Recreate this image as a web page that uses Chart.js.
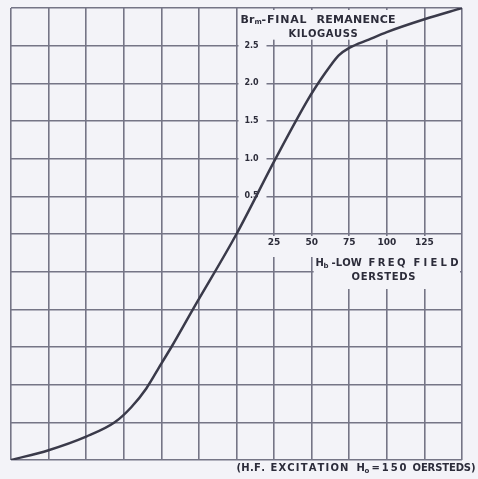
<!DOCTYPE html>
<html>
<head>
<meta charset="utf-8">
<script src="https://cdn.jsdelivr.net/npm/chart.js@4/dist/chart.umd.min.js"></script>
<style>
  html, body { margin: 0; padding: 0; background: #f3f3f8; }
  #wrap { width: 478px; height: 479px; }
</style>
</head>
<body>
<div id="wrap"><canvas id="chart-remanence" width="478" height="479"></canvas></div>
<script>
// Scanned-chart colors
const PAPER = '#f3f3f8'
const GRID = '#757586'
const INK = '#3a3a4a'
const TEXT = '#2c2c3a'

// Low freq field H (oersteds) vs final remanence Brm (kilogauss)
const fieldOe = [-150, -125, -100, -81, -70, -60, -50, -43, -29, 0, 26, 48, 56, 62, 68, 75, 88, 100, 125, 150]
const remanenceKG = [-3.0, -2.87, -2.69, -2.5, -2.3, -2.05, -1.72, -1.49, -1.0, 0, 1.0, 1.8, 2.05, 2.22, 2.37, 2.47, 2.58, 2.68, 2.85, 3.0]

// Tick labels written on the sheet
const xTickLabels = [25, 50, 75, 100, 125]
const yTickLabels = ['0.5', '1.0', '1.5', '2.0', '2.5']
const yTickValues = [0.5, 1.0, 1.5, 2.0, 2.5]

const points = fieldOe.map((x, i) => ({ x, y: remanenceKG[i] }))

// draw text spread evenly between x0 and x1
function spaced(ctx, s, x0, x1, y) {
  const chars = Array.from(s)
  const tw = ctx.measureText(s).width
  const gap = chars.length > 1 ? (x1 - x0 - tw) / (chars.length - 1) : 0
  let x = x0
  chars.forEach((ch) => {
    ctx.fillText(ch, x, y)
    x += ctx.measureText(ch).width + gap
  })
}

const paperPlugin = {
  id: 'paper',
  beforeDraw(chart) {
    const ctx = chart.ctx
    ctx.save()
    ctx.fillStyle = PAPER
    ctx.fillRect(0, 0, chart.width, chart.height)
    ctx.restore()
  },
}

const sheetLabels = {
  id: 'sheetLabels',
  beforeDatasetsDraw(chart) {
    const { ctx, chartArea: a, scales } = chart
    const cx = scales.x.getPixelForValue(0)
    const cy = scales.y.getPixelForValue(0)
    const x25 = scales.x.getPixelForValue(25)
    const x50 = scales.x.getPixelForValue(50)
    ctx.save()

    // blank patches where the lettering sits
    ctx.fillStyle = PAPER
    ctx.fillRect(cx + 2, a.top + 2, scales.x.getPixelForValue(125) - 24 - cx, scales.y.getPixelForValue(2.5) - 8 - a.top)
    yTickValues.forEach((v) => {
      const py = scales.y.getPixelForValue(v)
      ctx.fillRect(cx + 2, py - 5, 28, 10)
    })
    ctx.fillRect(x25 - 13, cy + 2, a.right - 2 - x25 + 13, 21)
    ctx.fillRect(x50 + 2, cy + 22, a.right - 4 - x50, 33)

    ctx.fillStyle = TEXT
    ctx.textBaseline = 'middle'
    ctx.textAlign = 'left'

    // title
    ctx.font = 'bold 11px "DejaVu Sans"'
    ctx.fillText('Br', cx + 4, a.top + 12)
    ctx.font = 'bold 7px "DejaVu Sans"'
    ctx.fillText('m', cx + 18, a.top + 14)
    ctx.font = 'bold 11px "DejaVu Sans"'
    spaced(ctx, '-FINAL', cx + 25, cx + 70, a.top + 12)
    spaced(ctx, 'REMANENCE', cx + 80, cx + 159, a.top + 12)
    ctx.font = 'bold 10px "DejaVu Sans"'
    spaced(ctx, 'KILOGAUSS', cx + 52, cx + 120, a.top + 26)

    // y labels
    ctx.font = 'bold 8px "DejaVu Sans"'
    ctx.textAlign = 'center'
    yTickValues.forEach((v, i) => {
      ctx.fillText(yTickLabels[i], cx + 15, scales.y.getPixelForValue(v))
    })

    // x labels
    ctx.font = 'bold 9px "DejaVu Sans"'
    xTickLabels.forEach((v) => {
      ctx.fillText(String(v), scales.x.getPixelForValue(v), cy + 9)
    })

    // x axis name
    ctx.textAlign = 'left'
    ctx.font = 'bold 10px "DejaVu Sans"'
    ctx.fillText('H', cx + 79, cy + 29)
    ctx.font = 'bold 7px "DejaVu Sans"'
    ctx.fillText('b', cx + 87, cy + 32)
    ctx.font = 'bold 10px "DejaVu Sans"'
    spaced(ctx, '-LOW', cx + 95, cx + 125, cy + 29)
    spaced(ctx, 'FREQ', cx + 132, cx + 169, cy + 29)
    spaced(ctx, 'FIELD', cx + 177, cx + 222, cy + 29)
    spaced(ctx, 'OERSTEDS', cx + 115, cx + 179, cy + 43)

    // footnote under the frame
    const fy = a.bottom + 8
    spaced(ctx, '(H.F.', cx + 0, cx + 27, fy)
    spaced(ctx, 'EXCITATION', cx + 34, cx + 110, fy)
    ctx.fillText('H', cx + 120, fy)
    ctx.font = 'bold 7px "DejaVu Sans"'
    ctx.fillText('o', cx + 128, fy + 3)
    ctx.font = 'bold 10px "DejaVu Sans"'
    spaced(ctx, '=150', cx + 135, cx + 170, fy)
    spaced(ctx, 'OERSTEDS)', cx + 176, cx + 239, fy)

    ctx.restore()
  },
}

new Chart(document.getElementById('chart-remanence'), {
  type: 'scatter',
  data: {
    datasets: [
      {
        data: points,
        showLine: true,
        borderColor: INK,
        borderWidth: 2.5,
        pointRadius: 0,
        cubicInterpolationMode: 'monotone',
        fill: false,
      },
    ],
  },
  options: {
    responsive: false,
    animation: false,
    layout: { padding: { left: 11, top: 8, right: 16, bottom: 19 } },
    scales: {
      x: {
        type: 'linear',
        min: -150,
        max: 150,
        ticks: { stepSize: 25, display: false },
        grid: { color: GRID, lineWidth: 1.6, drawTicks: false },
        border: { display: false },
      },
      y: {
        type: 'linear',
        min: -3,
        max: 3,
        ticks: { stepSize: 0.5, display: false },
        grid: { color: GRID, lineWidth: 1.6, drawTicks: false },
        border: { display: false },
      },
    },
    plugins: {
      legend: { display: false },
      tooltip: { enabled: false },
    },
  },
  plugins: [paperPlugin, sheetLabels],
})
</script>
</body>
</html>
